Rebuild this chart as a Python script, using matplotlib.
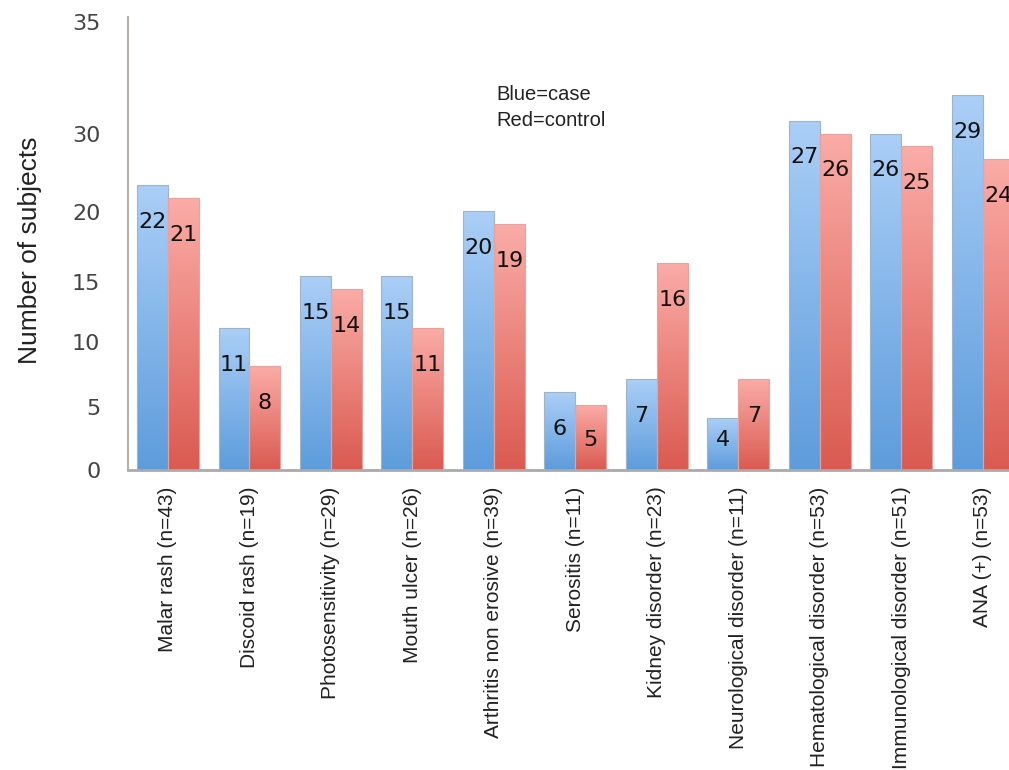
import numpy as np
import matplotlib
matplotlib.use('Agg')
import matplotlib.pyplot as plt
from matplotlib.colors import LinearSegmentedColormap

categories = ['Malar rash (n=43)', 'Discoid rash (n=19)', 'Photosensitivity (n=29)',
              'Mouth ulcer (n=26)', 'Arthritis non erosive (n=39)', 'Serositis (n=11)',
              'Kidney disorder (n=23)', 'Neurological disorder (n=11)',
              'Hematological disorder (n=53)', 'Immunological disorder (n=51)', 'ANA (+) (n=53)']
cases = [22, 11, 15, 15, 20, 6, 7, 4, 27, 26, 29]
controls = [21, 8, 14, 11, 19, 5, 16, 7, 26, 25, 24]

# y tick labels as printed on the axis, and where they sit
ytick_pos = [0, 4.9, 9.9, 14.5, 19.9, 26, 34.6]
ytick_labels = ['0', '5', '10', '15', '20', '30', '35']

blue_cmap = LinearSegmentedColormap.from_list('blue', ['#5d9cdc', '#abcff7'])
red_cmap = LinearSegmentedColormap.from_list('red', ['#da5a50', '#fbaca7'])

fig = plt.figure(figsize=(10.09, 7.70), dpi=100)
ax = fig.add_axes([0.1269, 0.3896, 0.8731, 0.5883])

x = np.arange(len(categories))
w = 0.38
grad = np.linspace(0, 1, 256).reshape(-1, 1)


def gradient_bars(bars, cmap):
    for b in bars:
        x0, y0 = b.get_x(), b.get_y()
        bw, bh = b.get_width(), b.get_height()
        im = ax.imshow(grad, cmap=cmap, origin='lower', aspect='auto',
                       extent=[x0, x0 + bw, y0, y0 + bh], zorder=2)
        im.set_clip_path(b)
        b.set_facecolor('none')
        b.set_edgecolor('#9fb4c8' if cmap is blue_cmap else '#e6a29d')
        b.set_linewidth(0.8)
        b.set_zorder(3)


b1 = ax.bar(x - w / 2, cases, w)
b2 = ax.bar(x + w / 2, controls, w)
gradient_bars(b1, blue_cmap)
gradient_bars(b2, red_cmap)

# value labels just inside the bar tops
for xs, vals in ((x - w / 2, cases), (x + w / 2, controls)):
    for xi, v in zip(xs, vals):
        ax.text(xi, max(v - 2.85, 2.3), str(v), ha='center', va='center',
                fontsize=16, color='#111111', zorder=4)

ax.set_xlim(-0.49, 10.32)
ax.set_ylim(0, 35)
ax.set_xticks(x)
ax.set_xticklabels(categories, rotation=90, fontsize=15, family='Liberation Sans',
                   color='#222222', va='top', ha='center')
ax.set_yticks(ytick_pos)
ax.set_yticklabels(ytick_labels, fontsize=16, color='#444444')
ax.tick_params(axis='both', length=0)
ax.tick_params(axis='y', pad=20)
ax.tick_params(axis='x', pad=12)

for s in ('top', 'right'):
    ax.spines[s].set_visible(False)
ax.spines['left'].set_color('#b8b2a6')
ax.spines['left'].set_linewidth(1.5)
ax.spines['bottom'].set_color('#aaaaaa')
ax.spines['bottom'].set_linewidth(2)

fig.text(0.03, 0.675, 'Number of subjects', rotation=90, ha='center', va='center',
         fontsize=19, family='Liberation Sans', color='#222222')
fig.text(0.492, 0.877, 'Blue=case', fontsize=14.5, family='Liberation Sans',
         color='#222222', va='center')
fig.text(0.492, 0.843, 'Red=control', fontsize=14.5, family='Liberation Sans',
         color='#222222', va='center')

fig.savefig('out.png', dpi=100)
